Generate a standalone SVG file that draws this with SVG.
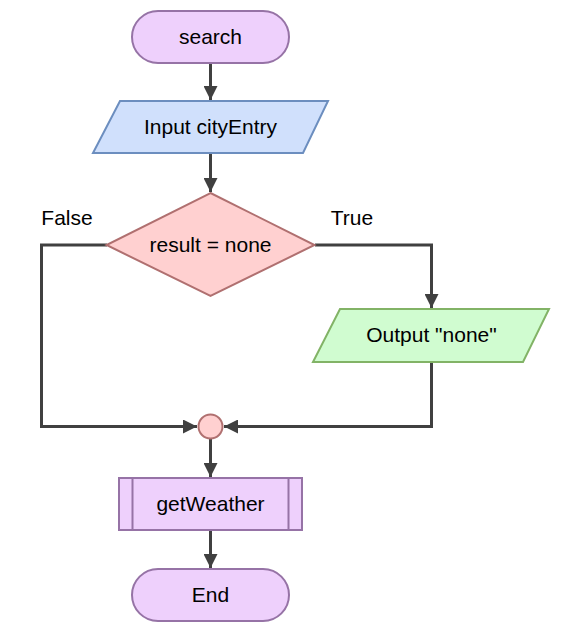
<svg xmlns="http://www.w3.org/2000/svg" width="573" height="635" viewBox="0 0 573 635">
<defs>
<marker id="arr" markerWidth="14" markerHeight="14" viewBox="0 0 14 14" refX="14" refY="7" orient="auto" markerUnits="userSpaceOnUse">
<path d="M0,0 L14,7 L0,14 Z" fill="#404040"/>
</marker>
<style>
text{font-family:"Liberation Sans",Arial,sans-serif;font-size:21px;fill:#000;}
.c{text-anchor:middle;dominant-baseline:central;}
.term{fill:#eed0fc;stroke:#9673a6;stroke-width:2;}
.proc{fill:#eed0fc;stroke:#9673a6;stroke-width:2;}
.in{fill:#d0e0fc;stroke:#6c8ebf;stroke-width:2;}
.dec{fill:#ffd0d0;stroke:#b07070;stroke-width:2;}
.out{fill:#d0fcd0;stroke:#82b366;stroke-width:2;}
.ln{fill:none;stroke:#404040;stroke-width:3;}
</style>
</defs>
<rect width="573" height="635" fill="#fff"/>
<g id="connectors">
<path class="ln" d="M210.5,63 V100" marker-end="url(#arr)"/>
<path class="ln" d="M210.5,154 V192" marker-end="url(#arr)"/>
<path class="ln" d="M107,245 H41.5 V426.5 H197" marker-end="url(#arr)"/>
<path class="ln" d="M315,245 H431.5 V308" marker-end="url(#arr)"/>
<path class="ln" d="M431.5,363 V426.5 H224" marker-end="url(#arr)"/>
<path class="ln" d="M210.5,439 V477" marker-end="url(#arr)"/>
<path class="ln" d="M210.5,531 V568" marker-end="url(#arr)"/>
<text x="67" y="217" class="c">False</text>
<text x="352" y="217" class="c">True</text>
</g>
<g id="search">
<rect class="term" x="132" y="11" width="157" height="52" rx="26"/>
<text x="210.5" y="36" class="c">search</text>
</g>
<g id="input">
<polygon class="in" points="120,101 328,101 303,153 93,153"/>
<text x="210.5" y="126" class="c">Input cityEntry</text>
</g>
<g id="decision">
<polygon class="dec" points="210.5,193 314.5,245 210.5,296 106.5,245"/>
<text x="210.5" y="244" class="c">result = none</text>
</g>
<g id="output">
<polygon class="out" points="340,309 549,309 523,362 313,362"/>
<text x="431.5" y="334.5" class="c">Output "none"</text>
</g>
<g id="junction">
<circle class="dec" cx="210.5" cy="426.5" r="12"/>
</g>
<g id="getWeather">
<rect class="proc" x="119" y="478" width="183" height="52"/>
<line class="proc" x1="132.5" y1="478" x2="132.5" y2="530"/>
<line class="proc" x1="288.5" y1="478" x2="288.5" y2="530"/>
<text x="210.5" y="503" class="c">getWeather</text>
</g>
<g id="end">
<rect class="term" x="132" y="569" width="157" height="52" rx="26"/>
<text x="210.5" y="594" class="c">End</text>
</g>
</svg>
